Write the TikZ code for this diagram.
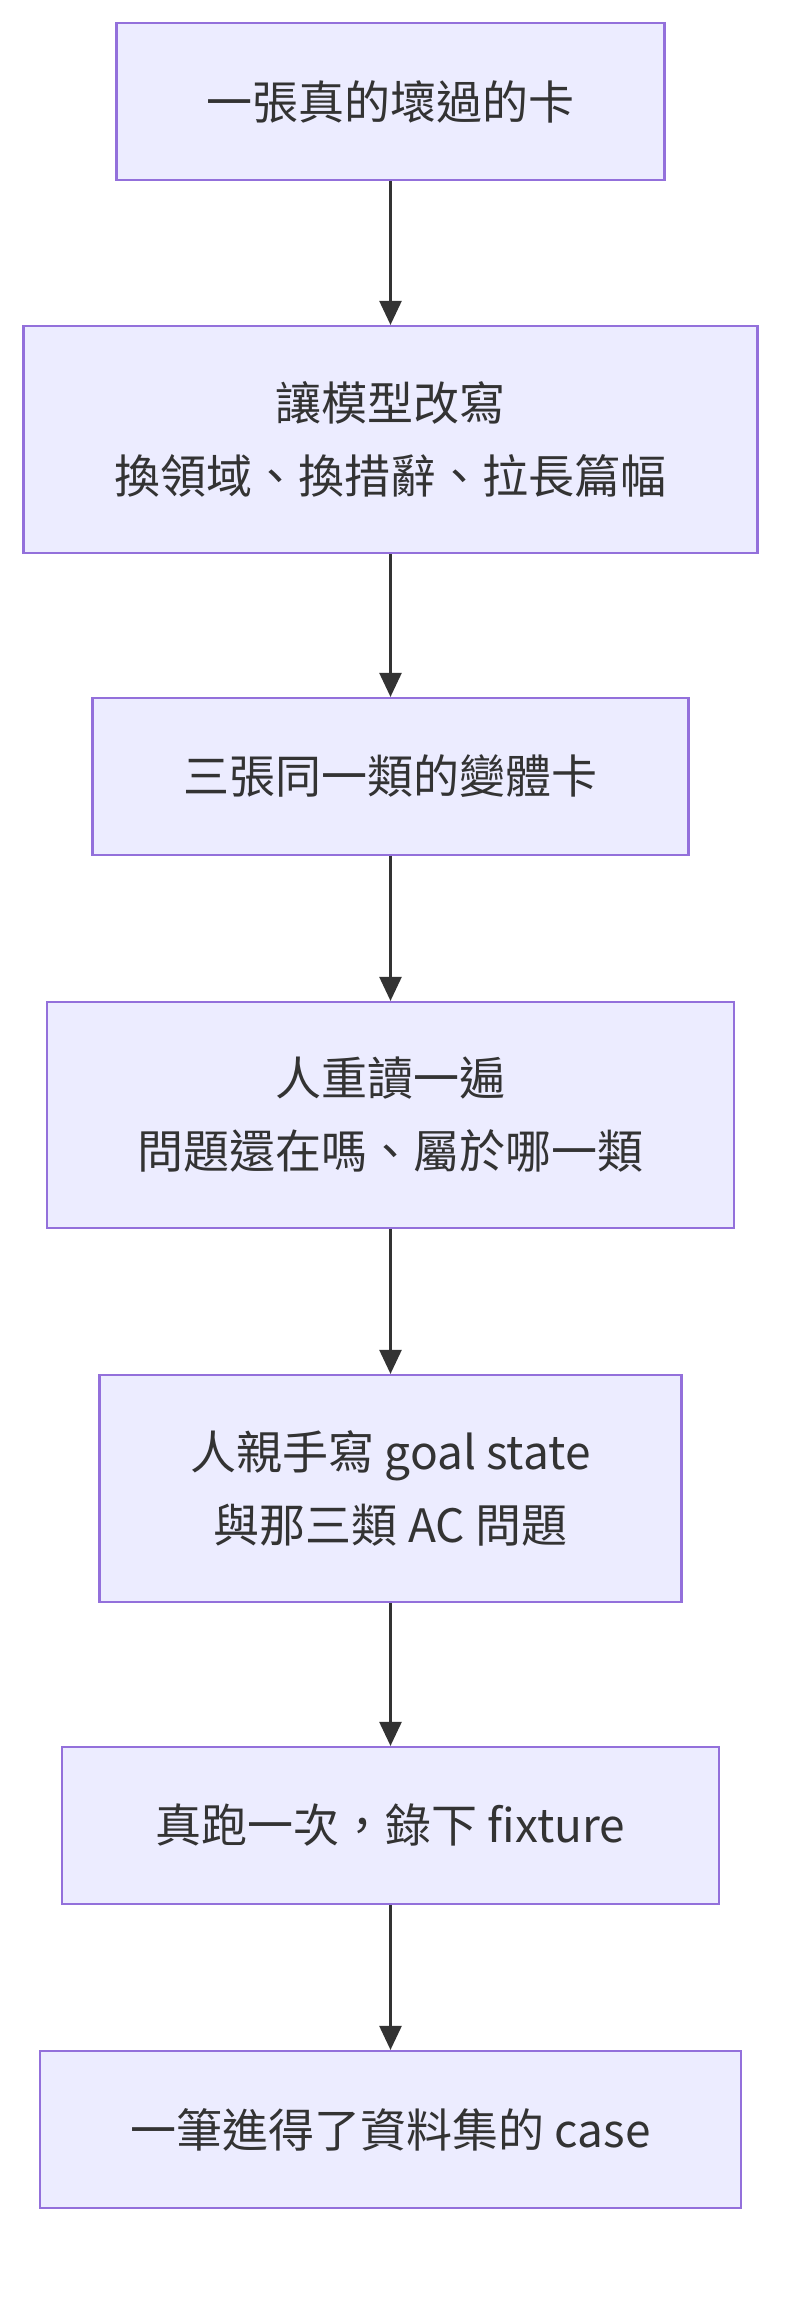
\documentclass[tikz,border=0pt]{standalone}
\usepackage{fontspec}
\setmainfont{Noto Sans CJK TC}
\usetikzlibrary{arrows.meta}
\definecolor{boxfill}{HTML}{ECECFF}
\definecolor{boxdraw}{HTML}{9370DB}
\definecolor{arr}{HTML}{333333}
\begin{document}
\begin{tikzpicture}[x=1pt,y=-1pt,
  box/.style={draw=boxdraw,fill=boxfill,line width=2.2pt,inner sep=0pt,align=center,text=arr,
    font=\fontsize{46}{73}\selectfont},
  link/.style={draw=arr,line width=2.5pt,-{Triangle[length=24pt,width=22pt]}}]
\useasboundingbox (0,0) rectangle (804,2298);
\node[box,minimum width=548pt,minimum height=157pt] (a) at (390.5,101.5) {一張真的壞過的卡};
\node[box,minimum width=734pt,minimum height=227pt] (b) at (390.5,439.5) {讓模型改寫\\換領域、換措辭、拉長篇幅};
\node[box,minimum width=596pt,minimum height=157pt] (c) at (390.5,776.5) {三張同一類的變體卡};
\node[box,minimum width=687pt,minimum height=226pt] (d) at (390.5,1115) {人重讀一遍\\問題還在嗎、屬於哪一類};
\node[box,minimum width=582pt,minimum height=227pt] (e) at (390.5,1488.5) {人親手寫 goal state\\與那三類 AC 問題};
\node[box,minimum width=657pt,minimum height=157pt] (f) at (390.5,1825.5) {真跑一次，錄下 fixture};
\node[box,minimum width=701pt,minimum height=157pt] (g) at (390.5,2129.5) {一筆進得了資料集的 case};
\draw[link] (a) -- (b);
\draw[link] (b) -- (c);
\draw[link] (c) -- (d);
\draw[link] (d) -- (e);
\draw[link] (e) -- (f);
\draw[link] (f) -- (g);
\end{tikzpicture}
\end{document}
